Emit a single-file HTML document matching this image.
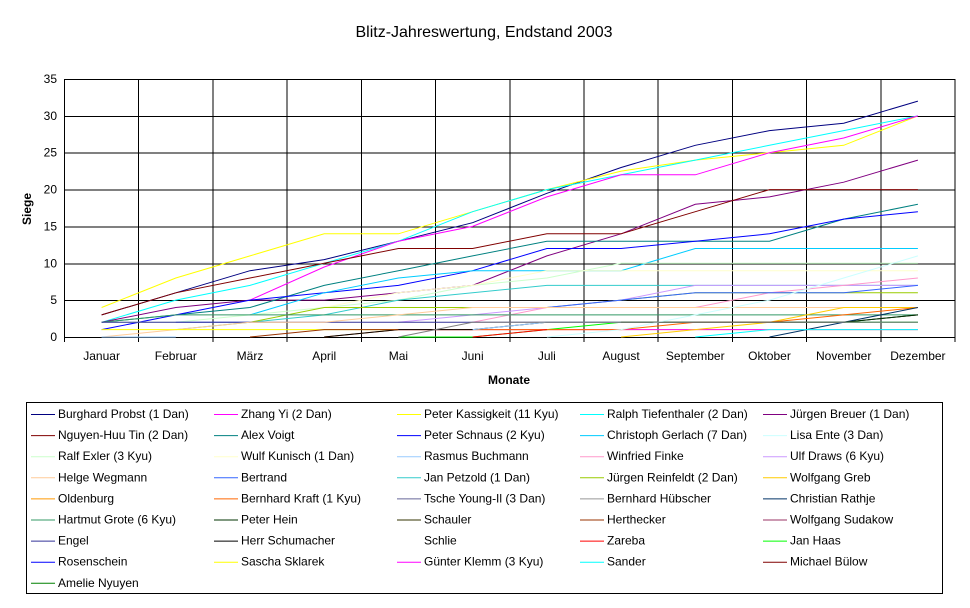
<!DOCTYPE html>
<html><head><meta charset="utf-8"><style>
body{margin:0;background:#fff;}
svg text{font-family:"Liberation Sans",Arial,sans-serif;}
</style></head><body>
<svg width="970" height="603" viewBox="0 0 970 603" xmlns="http://www.w3.org/2000/svg">
<rect width="970" height="603" fill="#fff"/>
<text x="484" y="37" font-size="16" text-anchor="middle">Blitz-Jahreswertung, Endstand 2003</text>
<g id="grid" stroke="#000" stroke-width="1" shape-rendering="crispEdges"></g>
<g id="series" fill="none" stroke-width="1"></g>
<g id="labels" font-size="12"></g>
<text x="509" y="384" font-size="12" font-weight="bold" text-anchor="middle">Monate</text>
<text transform="translate(31,209) rotate(-90)" font-size="12" font-weight="bold" text-anchor="middle">Siege</text>
<rect x="26.5" y="402.5" width="916" height="191" fill="none" stroke="#000"/>
<g id="legend" font-size="12"></g>
</svg>
<script>
var ns="http://www.w3.org/2000/svg";
function el(p,t,a,txt){var e=document.createElementNS(ns,t);for(var k in a)e.setAttribute(k,a[k]);if(txt!=null)e.textContent=txt;p.appendChild(e);return e;}
var g=document.getElementById('grid'),lab=document.getElementById('labels');
var x0=64.5,x1=955,y0=337,yt=79;
function Y(v){return y0-(y0-yt)*v/35;}
for(var v=0;v<=35;v+=5){el(g,'line',{x1:x0,x2:x1,y1:Y(v)+.5,y2:Y(v)+.5});el(lab,'text',{x:57,y:Y(v)+4,'text-anchor':'end'},String(v));}
var cw=(x1-x0)/12;
for(var i=0;i<=12;i++){el(g,'line',{x1:x0+cw*i,x2:x0+cw*i,y1:yt,y2:y0+5});}
var months=['Januar','Februar','März','April','Mai','Juni','Juli','August','September','Oktober','November','Dezember'];
months.forEach(function(m,i){el(lab,'text',{x:x0+cw*(i+.5),y:360,'text-anchor':'middle'},m);});
function X(i){return x0+cw*(i+.5);}
var S=[
['#000080',[3,6,9,10.5,13,15.5,19.5,23,26,28,29,32]],
['#ffff00',[4,8,11,14,14,17,20,22.5,24,25,26,30]],
['#00ffff',[2,5,7,10,13,17,20,22,24,26,28,30]],
['#ff00ff',[null,null,5,9.5,13,15,19,22,22,25,27,30]],
['#800080',[2,4,5,5,6,7,11,14,18,19,21,24]],
['#800000',[3,6,8,10,12,12,14,14,17,20,20,20]],
['#008080',[2,3,4,7,9,11,13,13,13,13,16,18]],
['#0000ff',[1,3,5,6,7,9,12,12,13,14,16,17]],
['#00ccff',[null,null,3,6,8,9,9,9,12,12,12,12]],
['#ccffcc',[2,2,3,4,5,7,8,10,10,10,10,10]],
['#ffffcc',[null,null,null,4,6,7,9,9,9,9,9,9]],
['#33cccc',[null,1,2,3,5,6,7,7,7,7,7,7]],
['#99cc00',[null,null,2,4,4,4,4,5,6,6,6,6]],
['#cc99ff',[null,null,null,null,2,3,4,5,7,7,7,7]],
['#ff99cc',[null,null,null,null,null,2,4,4,4,6,7,8]],
['#3366ff',[null,2,2,null,null,4,4,5,6,6,6,7]],
['#339966',[2,3,3,3,3,3,3,3,3,3,3,3]],
['#333399',[2,2,2,2,2,2,2,2,2,2,2,2]],
['#ffcc99',[0,1,2,2,3,4,4,4,4,4,4,4]],
['#ffff00',[1,1,1,1,1,1,1,1,1,1,1,1]],
['#ff00ff',[null,null,null,null,1,1,1,1,1,1,1,1]],
['#00ff00',[null,null,null,null,0,0,1,2,2,2,2,2]],
['#ffcc00',[null,null,null,null,null,null,null,0,1,2,4,4]],
['#ff6600',[null,null,null,0,1,1,1,1,2,2,3,4]],
['#000000',[null,null,null,0,1,1,2,2,2,2,2,3]],
['#ccffff',[null,null,null,null,null,null,0,1,3,5,8,11]],
['#003366',[null,null,null,null,null,null,null,null,null,0,2,4]],
['#003300',[null,null,null,null,null,null,null,null,null,null,2,3]],
['#00ffff',[null,null,null,null,null,null,null,null,0,1,1,1]],
['#993300',[null,null,0,1,1,null,null,null,null,null,null,null]],
['#ff0000',[null,null,null,null,null,0,1,null,null,null,null,null]],
['#99ccff',[0,0,null,null,null,1,2,2,null,null,null,null]],
['#808080',[null,null,null,null,0,2,2,2,2,2,2,2]]
];
var sg=document.getElementById('series');
S.forEach(function(s){var pts=[];s[1].forEach(function(v,i){if(v==null){if(pts.length>1)el(sg,'polyline',{points:pts.join(' '),stroke:s[0]});pts=[];}else pts.push(X(i).toFixed(1)+','+Y(v).toFixed(1));});if(pts.length>1)el(sg,'polyline',{points:pts.join(' '),stroke:s[0]});});
var L=[
['Burghard Probst (1 Dan)','#000080'],['Zhang Yi (2 Dan)','#ff00ff'],['Peter Kassigkeit (11 Kyu)','#ffff00'],['Ralph Tiefenthaler (2 Dan)','#00ffff'],['Jürgen Breuer (1 Dan)','#800080'],
['Nguyen-Huu Tin (2 Dan)','#800000'],['Alex Voigt','#008080'],['Peter Schnaus (2 Kyu)','#0000ff'],['Christoph Gerlach (7 Dan)','#00ccff'],['Lisa Ente (3 Dan)','#ccffff'],
['Ralf Exler (3 Kyu)','#ccffcc'],['Wulf Kunisch (1 Dan)','#ffffcc'],['Rasmus Buchmann','#99ccff'],['Winfried Finke','#ff99cc'],['Ulf Draws (6 Kyu)','#cc99ff'],
['Helge Wegmann','#ffcc99'],['Bertrand','#3366ff'],['Jan Petzold (1 Dan)','#33cccc'],['Jürgen Reinfeldt (2 Dan)','#99cc00'],['Wolfgang Greb','#ffcc00'],
['Oldenburg','#ff9900'],['Bernhard Kraft (1 Kyu)','#ff6600'],['Tsche Young-Il (3 Dan)','#666699'],['Bernhard Hübscher','#969696'],['Christian Rathje','#003366'],
['Hartmut Grote (6 Kyu)','#339966'],['Peter Hein','#003300'],['Schauler','#333300'],['Herthecker','#993300'],['Wolfgang Sudakow','#993366'],
['Engel','#333399'],['Herr Schumacher','#000000'],['Schlie',null],['Zareba','#ff0000'],['Jan Haas','#00ff00'],
['Rosenschein','#0000ff'],['Sascha Sklarek','#ffff00'],['Günter Klemm (3 Kyu)','#ff00ff'],['Sander','#00ffff'],['Michael Bülow','#800000'],
['Amelie Nyuyen','#008000']
];
var lx=[31,214,397,580,763],lg=document.getElementById('legend');
L.forEach(function(e,i){var c=i%5,r=Math.floor(i/5),y=414+r*21.1;
if(e[1])el(lg,'line',{x1:lx[c],x2:lx[c]+24,y1:y+.5,y2:y+.5,stroke:e[1]});
el(lg,'text',{x:lx[c]+27,y:y+4},e[0]);});
</script>
</body></html>
